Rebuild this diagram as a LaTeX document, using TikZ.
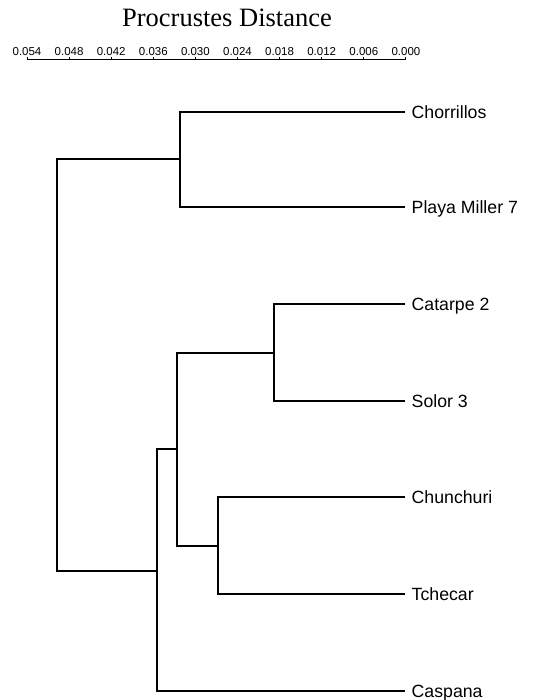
\documentclass[tikz,border=0pt]{standalone}
\usepackage{fontspec}
\setmainfont{Liberation Serif}
\newfontfamily\labelfont{Liberation Sans}

\begin{document}
\begin{tikzpicture}[x=1pt,y=-1pt]
\tikzstyle{leaf}=[anchor=west,inner xsep=6.5pt,text height=12.6pt,text depth=0pt,font=\labelfont\fontsize{17.7}{20}\selectfont]
\tikzstyle{branch}=[line width=1.5pt]
\tikzstyle{tick}=[anchor=base,inner sep=0pt,font=\labelfont\fontsize{11.5}{13}\selectfont]
\useasboundingbox (0,0) rectangle (533,700);
% axis
\node at(227,27) (title) [anchor=base,inner sep=0pt] {\fontsize{26.5}{30}\selectfont Procrustes Distance};
\draw[line width=1pt] (27,60) -- (406,60);
\foreach \v [count=\i from 0] in {0.054,0.048,0.042,0.036,0.030,0.024,0.018,0.012,0.006,0.000}{
  \draw[line width=1pt] (27+42.1*\i,60) -- ++(0,-3);
  \node at(27+42.1*\i,56) (t\i) [tick] {\v};
}
% leaves
\node at(405,112) (Chorrillos) [leaf] {Chorrillos};
\node at(405,207) (Playa) [leaf] {Playa Miller 7};
\node at(405,304) (Catarpe) [leaf] {Catarpe 2};
\node at(405,401) (Solor) [leaf] {Solor 3};
\node at(405,497) (Chunchuri) [leaf] {Chunchuri};
\node at(405,594) (Tchecar) [leaf] {Tchecar};
\node at(405,691) (Caspana) [leaf] {Caspana};
% joins
\coordinate (CP) at (180,159);
\coordinate (CS) at (274,353);
\coordinate (CT) at (218,546);
\coordinate (CSCT) at (177,449);
\coordinate (CSCTC) at (157,571);
\coordinate (root) at (57,365);
\draw[branch] (CP) |- (Chorrillos.west) (CP) |- (Playa.west);
\draw[branch] (CS) |- (Catarpe.west) (CS) |- (Solor.west);
\draw[branch] (CT) |- (Chunchuri.west) (CT) |- (Tchecar.west);
\draw[branch] (CSCT) |- (CS) (CSCT) |- (CT);
\draw[branch] (CSCTC) |- (CSCT) (CSCTC) |- (Caspana.west);
\draw[branch] (root) |- (CP) (root) |- (CSCTC);
\end{tikzpicture}
\end{document}
